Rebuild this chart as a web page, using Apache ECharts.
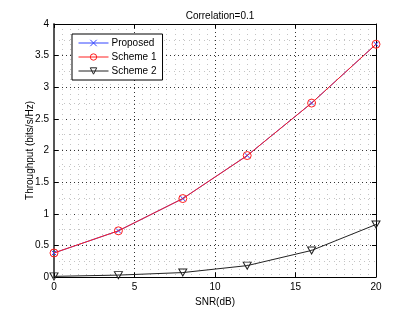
<!DOCTYPE html>
<html><head><meta charset="utf-8">
<script src="https://cdn.jsdelivr.net/npm/echarts@6/dist/echarts.min.js"></script>
<style>html,body{margin:0;padding:0;background:#fff}#c{width:415px;height:312px}</style>
</head><body><div id="c"></div>
<script>
var snr = [0, 4, 8, 12, 16, 20];
var proposed = [0.38, 0.73, 1.24, 1.92, 2.75, 3.68];
var scheme1 = [0.38, 0.73, 1.24, 1.92, 2.75, 3.68];
var scheme2 = [0.01, 0.03, 0.07, 0.18, 0.42, 0.83];
var seriesNames = ['Proposed', 'Scheme 1', 'Scheme 2'];

function pairs(ys){ return snr.map(function(x,i){ return [x, ys[i]]; }); }
var font = 'Liberation Sans, Arial, sans-serif';
var fs = 10;
var chart = echarts.init(document.getElementById('c'), null, {renderer:'canvas'});
var xCommon = {
  type:'value', min:0, max:20, interval:5,
  axisLine:{show:true, onZero:false, lineStyle:{color:'#000', width:1}},
  axisTick:{show:true, inside:true, length:4, lineStyle:{color:'#000'}},
  splitLine:{show:true, lineStyle:{color:'#333', type:[1,3], width:1}},
  minorSplitLine:{show:true, lineStyle:{color:'#c4c4c4', type:[1,4], width:1}},
  minorTick:{show:false, splitNumber:10}
};
var yCommon = {
  type:'value', min:0, max:4, interval:0.5,
  axisLine:{show:true, onZero:false, lineStyle:{color:'#000', width:1}},
  axisTick:{show:true, inside:true, length:4, lineStyle:{color:'#000'}},
  splitLine:{show:true, lineStyle:{color:'#333', type:[1,3], width:1}},
  minorSplitLine:{show:true, lineStyle:{color:'#c4c4c4', type:[1,4], width:1}},
  minorTick:{show:false, splitNumber:2}
};
chart.setOption({
  animation:false,
  backgroundColor:'#fff',
  title:{text:'Correlation=0.1', top:6, left:215, textAlign:'center',
    textStyle:{fontFamily:font, fontSize:fs, fontWeight:'normal', color:'#000'}},
  grid:{left:54, right:39, top:24, bottom:35},
  legend:{
    data:seriesNames, orient:'vertical', left:72, top:34,
    backgroundColor:'#fff', borderColor:'#000', borderWidth:1, padding:[3,6,3,6],
    itemWidth:30, itemHeight:8, itemGap:2,
    lineStyle:{width:1},
    itemStyle:{color:'none', borderWidth:1},
    textStyle:{fontFamily:font, fontSize:fs, color:'#000', lineHeight:12, padding:[0,0,0,-2]}
  },
  xAxis:[
    Object.assign({}, xCommon, {position:'bottom', name:'SNR(dB)', nameLocation:'middle', nameGap:19,
      nameTextStyle:{fontFamily:font, fontSize:fs, color:'#000'},
      axisLabel:{fontFamily:font, fontSize:fs, color:'#000', margin:5}}),
    Object.assign({}, xCommon, {position:'top', axisLabel:{show:false}, splitLine:{show:false}, minorSplitLine:{show:false}})
  ],
  yAxis:[
    Object.assign({}, yCommon, {position:'left', name:'Throughput (bits/s/Hz)', nameLocation:'middle', nameGap:19,
      nameMoveOverlap:false,
      nameTextStyle:{fontFamily:font, fontSize:fs, color:'#000'},
      axisLine:{show:true, onZero:false, lineStyle:{color:'#555', width:2}},
      axisLabel:{fontFamily:font, fontSize:fs, color:'#000', margin:5}}),
    Object.assign({}, yCommon, {position:'right', axisLabel:{show:false}, splitLine:{show:false}, minorSplitLine:{show:false}})
  ],
  series:[
    {name:seriesNames[0], type:'line', data:pairs(proposed), symbol:'path://M0,0L10,10M10,0L0,10', symbolSize:5,
     lineStyle:{color:'#3344ff', width:1}, itemStyle:{color:'none', borderColor:'#3344ff', borderWidth:1}, z:3},
    {name:seriesNames[1], type:'line', data:pairs(scheme1), symbol:'circle', symbolSize:8,
     lineStyle:{color:'#ff2020', width:1}, itemStyle:{color:'none', borderColor:'#ff2020', borderWidth:1}, z:4},
    {name:seriesNames[2], type:'line', data:pairs(scheme2), symbol:'path://M0,0L10,0L5,9Z', symbolSize:[8,7],
     lineStyle:{color:'#222', width:1}, itemStyle:{color:'none', borderColor:'#222', borderWidth:1}, z:5}
  ]
});
</script></body></html>
